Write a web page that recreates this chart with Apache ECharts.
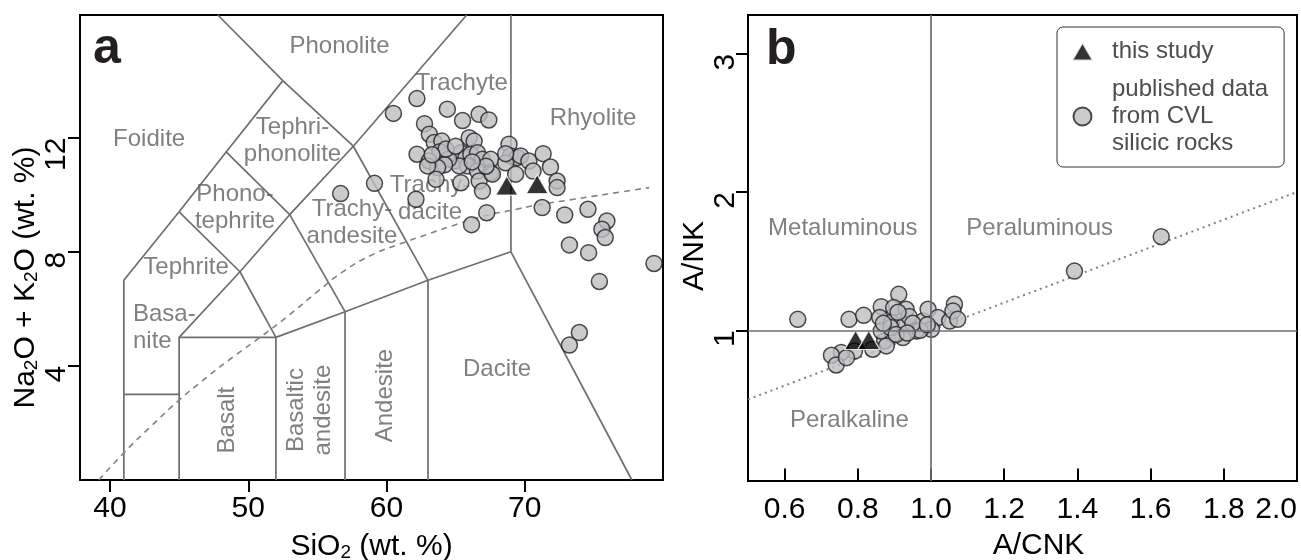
<!DOCTYPE html>
<html><head><meta charset="utf-8">
<script src="https://cdn.jsdelivr.net/npm/echarts@6/dist/echarts.min.js"></script>
<style>html,body{margin:0;padding:0;background:#fff}#c{width:1301px;height:560px}</style>
</head><body><div id="c"></div>
<script>
// ---------- DATA ----------
// Panel a: TAS diagram (SiO2 vs Na2O+K2O)
const tasPubSiO2 = [60.5,62.2,64.4,65.5,66.7,67.4,62.75,63.1,63.45,64.0,65.98,66.34,63.86,62.21,63.09,64.9,65.38,65.74,66.1,66.58,66.94,67.54,65.86,65.26,64.5,64.2,63.7,66.58,67.54,66.7,66.94,65.38,63.58,62.97,67.66,68.86,68.98,69.46,68.62,69.7,70.3,71.33,71.86,72.34,72.34,70.6,69.34,62.13,59.13,56.68,67.25,66.15,71.26,72.89,74.57,75.94,75.58,75.82,73.23,74.62,79.35,75.4,73.95,73.23,64.3,65.0,67.2,66.2,63.3,68.62];
const tasPubAlk  = [12.85,13.37,13.0,12.6,12.82,12.62,12.49,12.12,11.83,11.88,12.0,11.88,11.51,11.42,11.18,11.18,11.47,11.3,11.42,11.47,11.24,11.24,11.01,11.01,11.25,11.05,10.95,10.83,10.77,10.48,10.13,10.42,10.54,11.01,10.72,11.77,11.36,11.3,11.12,11.36,11.18,11.44,10.97,10.48,10.25,10.83,10.72,9.84,10.4,10.04,9.37,8.95,9.55,9.29,9.49,9.08,8.79,8.5,8.24,7.97,7.59,6.96,5.17,4.73,11.6,11.7,11.0,11.15,11.4,11.44];
const tasStudySiO2 = [68.7, 70.9];
const tasStudyAlk  = [10.32, 10.37];

// TAS field boundaries (SiO2, Na2O+K2O)
const tasBoundaries = [
  [[41,0],[41,7],[45,9.4],[48.4,11.5],[52.5,14]],
  [[52.5,14],[47.8,16.3]],
  [[41,3],[45,3]],
  [[45,0],[45,5],[52,5],[52,0]],
  [[45,5],[49.4,7.3],[52,5]],
  [[52,5],[57,5.9],[63,7],[69,8]],
  [[57,0],[57,5.9]],
  [[63,0],[63,7]],
  [[69,8],[69,16.3]],
  [[69,8],[77.75,0]],
  [[49.4,7.3],[53,9.3],[57.6,11.7]],
  [[53,9.3],[57,5.9]],
  [[57.6,11.7],[63,7]],
  [[45,9.4],[49.4,7.3]],
  [[48.4,11.5],[53,9.3]],
  [[52.5,14],[57.6,11.7],[65.8,16.3]]
];
// alkaline / subalkaline divide (dashed)
const alkDivide = [[39.2,0],[41,0.95],[43,1.9],[45,2.8],[47,3.6],[49,4.35],[51,5.05],[53,5.8],[55,6.6],[57,7.35],[59,7.9],[61,8.28],[63,8.62],[65,8.95],[67,9.25],[69,9.45],[71,9.65],[73,9.8],[75,9.95],[77,10.1],[79,10.25]];

const tasFieldNames = ['Foidite','Phonolite','Tephri-\nphonolite','Phono-\ntephrite','Tephrite','Basa-\nnite','Trachyte','Rhyolite','Trachy-\ndacite','Trachy-\nandesite','Basalt','Basaltic\nandesite','Andesite','Dacite'];
const tasFieldAt = [[42.83,11.95],[56.6,15.2],[53.2,11.9],[49.04,9.55],[45.5,7.47],[41.66,5.35],[65.44,13.92],[74.94,12.69],[63.15,9.85],[57.5,9.0],[48.46,2.1],[54.47,2.45],[59.89,2.96],[67.99,3.89]];
const tasFieldRotate = [0,0,0,0,0,0,0,0,0,0,90,90,90,0];

const tasXTicks = [40,50,60,70];
const tasYTicks = [4,8,12];

// Panel b: A/CNK vs A/NK
const acnkPub = [0.636,0.776,0.816,0.912,0.864,0.898,0.932,0.86,0.892,0.928,0.978,0.992,1.019,1.051,1.064,1.06,1.073,1.001,0.96,0.923,0.873,0.841,0.791,0.755,0.728,0.741,0.769,0.896,0.864,0.878,1.392,1.629,0.89,0.94,0.97,0.91,0.95,0.87,0.99,0.905,0.935];
const ankPub  = [1.079,1.079,1.108,1.26,1.171,1.164,1.152,1.092,1.056,1.043,1.067,1.152,1.092,1.067,1.188,1.14,1.079,1.007,0.995,0.947,0.923,0.863,0.85,0.839,0.819,0.749,0.802,0.971,0.995,0.887,1.428,1.677,1.02,1.1,1.0,1.13,1.05,1.05,1.04,0.97,0.98];
const acnkStudy = [0.794, 0.83];
const ankStudy  = [0.93, 0.93];
const equalityLine = [[0.5,0.5],[2.0,2.0]];
const bFieldNames = ['Metaluminous','Peraluminous','Peralkaline'];
const bFieldAt = [[0.759,1.738],[1.297,1.738],[0.777,0.345]];
const acnkTicks = [0.6,0.8,1.0,1.2,1.4,1.6,1.8,2.0];
const ankTicks = [1,2,3];

const nameStudy = 'this study';
const namePub = 'published data\nfrom CVL\nsilicic rocks';

// ---------- STYLE ----------
const FF = '"Liberation Sans", Arial, Helvetica, sans-serif';
const GRAY = '#5f6062';
const LINE = '#6d6e71';
const INK = '#231f20';
const zip = (a,b) => a.map((v,i)=>[v,b[i]]);

const circleStyle = {color:'#bcbec0', borderColor:INK, borderWidth:1.5};
const triStyle = {color:'#000', borderColor:'#fff', borderWidth:1.2};

function fieldLabelSeries(names, at, rot, xi) {
  return {
    type:'scatter', xAxisIndex:xi, yAxisIndex:xi, z:2, silent:true,
    symbolSize:1, itemStyle:{color:'rgba(0,0,0,0)'},
    data: names.map((n,i)=>({
      value: at[i], name: n,
      label: {
        show:true, position:'inside', formatter: n,
        rotate: rot ? rot[i] : 0,
        align: (n === 'Basa-\nnite') ? 'left' : 'center',
        verticalAlign:'middle',
        fontSize:24, lineHeight:27, color:GRAY, fontFamily:FF
      }
    }))
  };
}

const series = [];
tasBoundaries.forEach(poly => series.push({
  type:'line', xAxisIndex:0, yAxisIndex:0, data:poly, symbol:'none', z:1, silent:true,
  lineStyle:{color:LINE, width:1.7}
}));
series.push({type:'line', xAxisIndex:0, yAxisIndex:0, data:alkDivide, symbol:'none', smooth:true, z:1, silent:true,
  lineStyle:{color:'#808285', width:1.6, type:[6,5]}});
series.push(fieldLabelSeries(tasFieldNames, tasFieldAt, tasFieldRotate, 0));
series.push({type:'scatter', name:namePub, xAxisIndex:0, yAxisIndex:0, z:3, symbol:'circle', symbolSize:16,
  itemStyle:circleStyle, data: zip(tasPubSiO2, tasPubAlk)});
series.push({type:'scatter', name:nameStudy, xAxisIndex:0, yAxisIndex:0, z:4, symbol:'triangle', symbolSize:[22,19],
  itemStyle:triStyle, data: zip(tasStudySiO2, tasStudyAlk)});

// panel b
series.push({type:'line', xAxisIndex:1, yAxisIndex:1, data:equalityLine, symbol:'none', z:1, silent:true,
  lineStyle:{color:'#808285', width:2, type:[2,4]},
  markLine:{silent:true, symbol:'none', label:{show:false}, lineStyle:{color:LINE, width:1.7, type:'solid'},
    data:[{xAxis:1},{yAxis:1}]}
});
series.push(fieldLabelSeries(bFieldNames, bFieldAt, null, 1));
series.push({type:'scatter', name:namePub, xAxisIndex:1, yAxisIndex:1, z:3, symbol:'circle', symbolSize:16,
  itemStyle:circleStyle, data: zip(acnkPub, ankPub)});
series.push({type:'scatter', name:nameStudy, xAxisIndex:1, yAxisIndex:1, z:4, symbol:'triangle', symbolSize:[22,19],
  itemStyle:triStyle, data: zip(acnkStudy, ankStudy)});

const tickStyle = {show:true, inside:false, length:12, lineStyle:{color:'#000', width:2}};
const xLabel = {fontSize:30, color:'#000', fontFamily:FF, margin:14};
const yLabel = {fontSize:30, color:'#000', fontFamily:FF, margin:8, rotate:90, align:'right', verticalAlign:'bottom'};
const richName = {
  t:{fontSize:30, color:'#000', fontFamily:FF, verticalAlign:'bottom', lineHeight:32},
  s:{fontSize:19, color:'#000', fontFamily:FF, verticalAlign:'bottom', lineHeight:19}
};

const option = {
  animation:false,
  backgroundColor:'#fff',
  title:[
    {text:'a', left:88, top:19, textStyle:{fontSize:50, fontWeight:'bold', color:INK, fontFamily:FF}},
    {text:'b', left:761, top:20, textStyle:{fontSize:50, fontWeight:'bold', color:INK, fontFamily:FF}}
  ],
  legend:{
    show:true, left:1057, top:27, orient:'vertical', selectedMode:false,
    data:[nameStudy, namePub],
    padding:[11,16,10,14], itemGap:11, itemWidth:21, itemHeight:18,
    borderColor:'#333', borderWidth:1, borderRadius:6, backgroundColor:'#fff',
    textStyle:{fontSize:24, lineHeight:27, color:'#4d4d4f', fontFamily:FF, padding:[0,0,0,14]}
  },
  grid:[
    {left:80, top:15, width:583, height:465, show:true, borderColor:'#000', borderWidth:2, containLabel:false, outerBoundsMode:'none'},
    {left:748, top:15, width:549, height:466, show:true, borderColor:'#000', borderWidth:2, containLabel:false, outerBoundsMode:'none'}
  ],
  xAxis:[
    {type:'value', gridIndex:0, min:37.83, max:80,
     axisLine:{show:false}, splitLine:{show:false},
     axisTick:Object.assign({customValues:tasXTicks}, tickStyle),
     axisLabel:Object.assign({customValues:tasXTicks}, xLabel),
     name:'{t|SiO}{s|2}{t| (wt. %)}', nameLocation:'middle', nameGap:50,
     nameTextStyle:{rich:richName}},
    {type:'value', gridIndex:1, min:0.5, max:2.0,
     axisLine:{show:false}, splitLine:{show:false},
     axisTick:Object.assign({customValues:acnkTicks}, tickStyle),
     axisLabel:Object.assign({customValues:acnkTicks, formatter:v=>v.toFixed(1), alignMaxLabel:'right'}, xLabel),
     name:'A/CNK', nameLocation:'middle', nameGap:50,
     nameTextStyle:{fontSize:30, color:'#000', fontFamily:FF, padding:[0,0,0,32]}}
  ],
  yAxis:[
    {type:'value', gridIndex:0, min:0, max:16.3,
     axisLine:{show:false}, splitLine:{show:false},
     axisTick:Object.assign({customValues:tasYTicks}, tickStyle),
     axisLabel:Object.assign({customValues:tasYTicks}, yLabel),
     name:'{t|Na}{s|2}{t|O + K}{s|2}{t|O (wt. %)}', nameLocation:'middle', nameGap:38,
     nameTextStyle:{rich:richName, padding:[0,60,0,0]}},
    {type:'value', gridIndex:1, min:-0.09, max:3.28,
     axisLine:{show:false}, splitLine:{show:false},
     axisTick:Object.assign({customValues:ankTicks}, tickStyle),
     axisLabel:Object.assign({customValues:ankTicks}, yLabel, {margin:7}),
     name:'A/NK', nameLocation:'middle', nameGap:30,
     nameTextStyle:{fontSize:30, color:'#000', fontFamily:FF, padding:[0,16,0,0]}}
  ],
  series: series
};

const chart = echarts.init(document.getElementById('c'), null, {renderer:'canvas'});
chart.setOption(option);
</script>
</body></html>
